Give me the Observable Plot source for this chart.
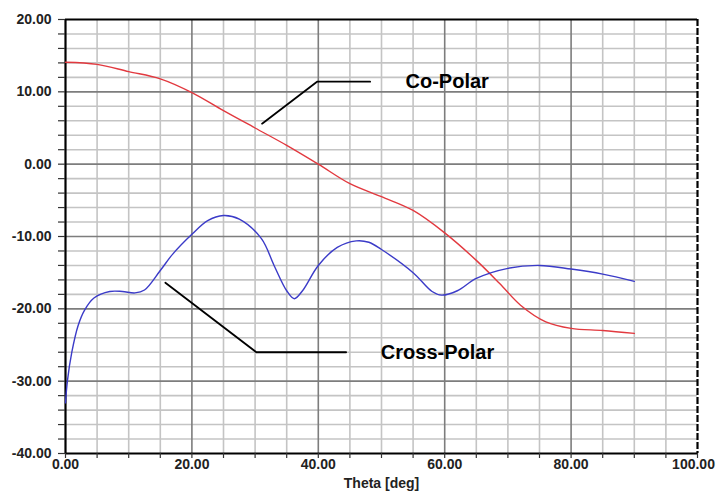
<!DOCTYPE html>
<html>
<head>
<meta charset="utf-8">
<script src="https://cdn.jsdelivr.net/npm/d3@7"></script>
<script src="https://cdn.jsdelivr.net/npm/@observablehq/plot@0.6"></script>
<style>
  html, body { margin: 0; padding: 0; background: #fff; }
</style>
</head>
<body>
<div id="chart"></div>
<script>
// Co-Polar pattern (theta deg, dB)
const coTheta = [0, 5, 10, 15, 20, 25, 30, 35, 40, 45, 50, 55, 60, 65, 68.7, 72, 76, 80, 85, 90];
const coValue = [14.1, 13.8, 12.8, 11.8, 9.9, 7.4, 5.0, 2.6, 0.0, -2.7, -4.5, -6.4, -9.5, -13.3, -16.5, -19.5, -21.8, -22.7, -23.0, -23.4];

// Cross-Polar pattern (theta deg, dB)
const xTheta = [0, 0.3, 1, 2, 3, 4.5, 7, 9, 11, 12.5, 15, 17, 20, 22.5, 25, 27.5, 31, 33, 35, 36.2, 37.5, 40, 43, 46, 48, 50, 55, 58, 59.5, 62, 65, 70, 75, 80, 85, 90];
const xValue = [-33, -30, -26, -22.3, -20.2, -18.5, -17.6, -17.6, -17.8, -17.4, -14.7, -12.4, -9.7, -7.8, -7.1, -7.6, -10.3, -14, -17.5, -18.6, -17.5, -14, -11.5, -10.6, -10.8, -11.8, -15, -17.6, -18.1, -17.5, -15.8, -14.4, -14.0, -14.5, -15.2, -16.2];

// Axis ticks
const xMinorTicks = d3.range(0, 101, 5);
const xMajorTicks = [0, 20, 40, 60, 80];
const xLastTick = [100];
const yMinorTicks = d3.range(-40, 21, 2);
const yMajorTicks = [-40, -30, -20, -10, 0, 10, 20];
const xGridDark = [20, 40, 60, 80];
const yGridDark = [-30, -20, -10, 0, 10];
const xTitle = "Theta [deg]";

// Annotations (label, leader polyline in data units)
const coLabel = "Co-Polar";
const coLeader = [[31.1, 5.6], [39.8, 11.4], [48.2, 11.4]];
const coLabelPos = [53.8, 11.4];
const crossLabel = "Cross-Polar";
const crossLeader = [[15.8, -16.4], [30.2, -26.0], [44.4, -26.0]];
const crossLabelPos = [49.9, -26.0];

const co = coTheta.map((t, i) => ({theta: t, v: coValue[i]}));
const cross = xTheta.map((t, i) => ({theta: t, v: xValue[i]}));

const font = "'Liberation Sans', Arial, Helvetica, sans-serif";
const fmt = d => d.toFixed(2);

const chart = Plot.plot({
  width: 717,
  height: 496,
  marginLeft: 65,
  marginRight: 20,
  marginTop: 19,
  marginBottom: 43,
  style: {fontFamily: font, fontSize: "14px", fontWeight: "bold", background: "#fff", color: "#222"},
  x: {domain: [0, 100], axis: null, label: null},
  y: {domain: [-40, 20], axis: null, label: null},
  marks: [
    // minor grid
    Plot.ruleX(xMinorTicks.filter(d => d > 0 && d < 100 && !xGridDark.includes(d)), {stroke: "#c4c4c4", strokeWidth: 1.6}),
    Plot.ruleY(yMinorTicks.filter(d => d > -40 && d < 20 && !yGridDark.includes(d)), {stroke: "#c4c4c4", strokeWidth: 1.6}),
    // major grid
    Plot.ruleX(xGridDark, {stroke: "#7d7d7d", strokeWidth: 1.6}),
    Plot.ruleY(yGridDark, {stroke: "#7d7d7d", strokeWidth: 1.6}),
    // frame
    Plot.ruleX([0], {stroke: "#000", strokeWidth: 2.2}),
    Plot.ruleY([-40], {stroke: "#000", strokeWidth: 2.2}),
    Plot.ruleY([20], {stroke: "#000", strokeWidth: 2.2}),
    Plot.ruleX([100], {stroke: "#000", strokeWidth: 2.2, strokeDasharray: "7,2"}),
    // ticks
    Plot.axisY({ticks: yMinorTicks, tickSize: 7, text: null, label: null, stroke: "#333", strokeWidth: 1.2}),
    Plot.axisY({ticks: yMajorTicks, tickSize: 0, tickPadding: 14, label: null, tickFormat: fmt, fill: "#222", fontWeight: "bold", fontSize: 14}),
    Plot.axisX({ticks: xMinorTicks, tickSize: 5, text: null, label: null, stroke: "#333", strokeWidth: 1.2}),
    Plot.axisX({ticks: xMajorTicks, tickSize: 0, tickPadding: 6, label: null, tickFormat: fmt, fill: "#222", fontWeight: "bold", fontSize: 14}),
    Plot.axisX({ticks: xLastTick, tickSize: 0, tickPadding: 6, label: null, tickFormat: fmt, dx: -4, fill: "#222", fontWeight: "bold", fontSize: 14}),
    Plot.text([xTitle], {frameAnchor: "bottom", dy: 34, fill: "#222", fontWeight: "bold", fontSize: 14}),
    // curves
    Plot.line(co, {x: "theta", y: "v", stroke: "#e2393f", strokeWidth: 1.4, curve: "catmull-rom"}),
    Plot.line(cross, {x: "theta", y: "v", stroke: "#3b3bc8", strokeWidth: 1.4, curve: "catmull-rom"}),
    // annotations
    Plot.line(coLeader, {x: d => d[0], y: d => d[1], stroke: "#000", strokeWidth: 1.8}),
    Plot.line(crossLeader, {x: d => d[0], y: d => d[1], stroke: "#000", strokeWidth: 1.8}),
    Plot.text([coLabel], {x: coLabelPos[0], y: coLabelPos[1], textAnchor: "start", fontSize: 20, fontWeight: "bold", fill: "#000"}),
    Plot.text([crossLabel], {x: crossLabelPos[0], y: crossLabelPos[1], textAnchor: "start", fontSize: 20, fontWeight: "bold", fill: "#000"})
  ]
});
document.getElementById("chart").appendChild(chart);
</script>
</body>
</html>
